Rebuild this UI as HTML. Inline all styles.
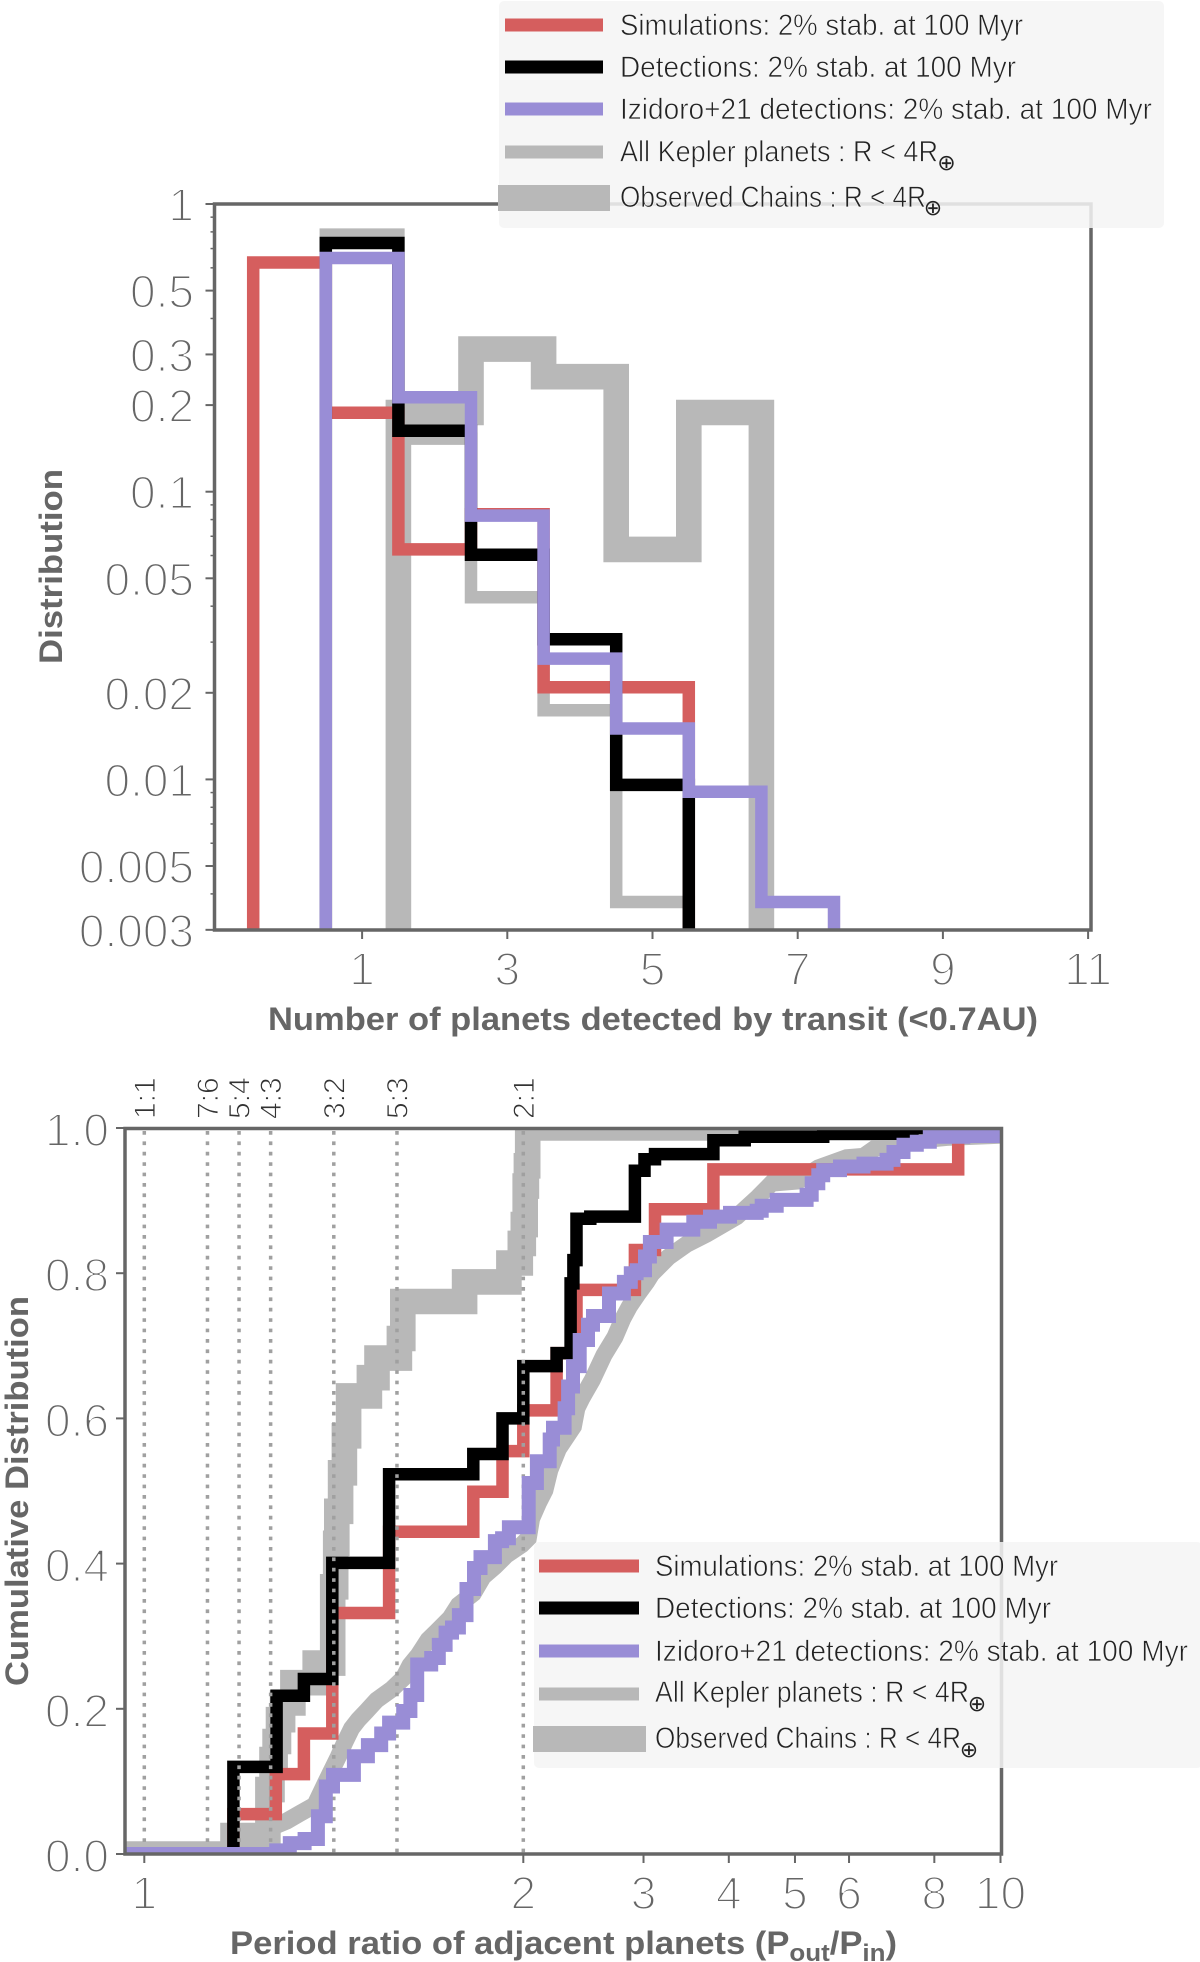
<!DOCTYPE html>
<html lang="en">
<head>
<meta charset="utf-8">
<title>Planet multiplicity and period ratio distributions</title>
<style>
  html, body { margin: 0; padding: 0; background: #fff; }
  svg { display: block; }
  text { font-family: "Liberation Sans", sans-serif; }
  .tick-label { fill: #666; stroke: #fff; stroke-width: 1.9px; font-size: 46px; }
  .axis-title { fill: #666; font-size: 32px; font-weight: bold; }
  .legend-text { fill: #222; stroke: #f5f5f5; stroke-width: .7px; font-size: 30px; }
  .earth { fill: #222; font-size: 22px; font-family: "DejaVu Sans", sans-serif; }
  .ratio-label { fill: #333; stroke: #fff; stroke-width: .9px; font-size: 30px; }
</style>
</head>
<body>
<svg id="fig" xmlns="http://www.w3.org/2000/svg" width="1200" height="1962" viewBox="0 0 1200 1962">
  <defs>
    <clipPath id="clip-top"><rect x="214.500" y="204" width="876.500" height="726"/></clipPath>
    <clipPath id="clip-bot"><rect x="125" y="1128" width="876.500" height="726"/></clipPath>
  </defs>
  <g id="top-marks" clip-path="url(#clip-top)"></g>
  <g id="top-axes"></g>
  <g id="bot-marks" clip-path="url(#clip-bot)"></g>
  <g id="bot-axes"></g>

  <text class="axis-title" x="268" y="1030" textLength="770" lengthAdjust="spacingAndGlyphs">Number of planets detected by transit (&lt;0.7AU)</text>
  <text class="axis-title" transform="translate(62,664) rotate(-90)" textLength="195" lengthAdjust="spacingAndGlyphs">Distribution</text>
  <text class="axis-title" transform="translate(28,1686) rotate(-90)" textLength="390" lengthAdjust="spacingAndGlyphs">Cumulative Distribution</text>
  <text class="axis-title" x="230" y="1954" textLength="667" lengthAdjust="spacingAndGlyphs">Period ratio of adjacent planets (P<tspan dy="7" font-size="24">out</tspan><tspan dy="-7">/P</tspan><tspan dy="7" font-size="24">in</tspan><tspan dy="-7">)</tspan></text>

  <g>
    <rect x="499" y="1" width="665" height="227" rx="5" fill="#f5f5f5" fill-opacity=".86"/>
    <rect x="505" y="18.500" width="98" height="13" fill="#d55e5e"/>
    <text class="legend-text" x="620" y="35" textLength="403" lengthAdjust="spacingAndGlyphs">Simulations: 2% stab. at 100 Myr</text>
    <rect x="505" y="60.500" width="98" height="13" fill="#000"/>
    <text class="legend-text" x="620" y="77" textLength="396" lengthAdjust="spacingAndGlyphs">Detections: 2% stab. at 100 Myr</text>
    <rect x="505" y="102.500" width="98" height="13" fill="#998dd6"/>
    <text class="legend-text" x="620" y="119" textLength="532" lengthAdjust="spacingAndGlyphs">Izidoro+21 detections: 2% stab. at 100 Myr</text>
    <rect x="505" y="145.500" width="98" height="13" fill="#b8b8b8"/>
    <text class="legend-text" x="620" y="161.500" textLength="318" lengthAdjust="spacingAndGlyphs">All Kepler planets  : R &lt; 4R</text>
    <text class="earth" x="946.500" y="170" text-anchor="middle">⊕</text>
    <rect x="498" y="185" width="112" height="26" fill="#b8b8b8"/>
    <text class="legend-text" x="620" y="207" textLength="306" lengthAdjust="spacingAndGlyphs">Observed Chains : R &lt; 4R</text>
    <text class="earth" x="933" y="215" text-anchor="middle">⊕</text>
  </g>

  <g>
    <rect x="534" y="1542" width="668" height="226" rx="5" fill="#f5f5f5" fill-opacity=".86"/>
    <rect x="539" y="1559.500" width="100" height="13" fill="#d55e5e"/>
    <text class="legend-text" x="655" y="1576" textLength="403" lengthAdjust="spacingAndGlyphs">Simulations: 2% stab. at 100 Myr</text>
    <rect x="539" y="1601.500" width="100" height="13" fill="#000"/>
    <text class="legend-text" x="655" y="1618" textLength="396" lengthAdjust="spacingAndGlyphs">Detections: 2% stab. at 100 Myr</text>
    <rect x="539" y="1644.500" width="100" height="13" fill="#998dd6"/>
    <text class="legend-text" x="655" y="1661" textLength="533" lengthAdjust="spacingAndGlyphs">Izidoro+21 detections: 2% stab. at 100 Myr</text>
    <rect x="539" y="1687.500" width="100" height="13" fill="#b8b8b8"/>
    <text class="legend-text" x="655" y="1702" textLength="314" lengthAdjust="spacingAndGlyphs">All Kepler planets : R &lt; 4R</text>
    <text class="earth" x="977" y="1711" text-anchor="middle">⊕</text>
    <rect x="533" y="1726" width="113" height="26" fill="#b8b8b8"/>
    <text class="legend-text" x="655" y="1748" textLength="306" lengthAdjust="spacingAndGlyphs">Observed Chains : R &lt; 4R</text>
    <text class="earth" x="969" y="1757" text-anchor="middle">⊕</text>
  </g>
</svg>

<script>
/* ---------- top chart data ---------- */
var histRedBins = [0, 1, 2, 3, 4, 5];
var histRedValues = [0.626, 0.188, 0.063, 0.0835, 0.0209, 0.0209];
var histBlackBins = [1, 2, 3, 4, 5];
var histBlackValues = [0.732, 0.163, 0.0604, 0.0307, 0.00957];
var histPurpleBins = [1, 2, 3, 4, 5, 6, 7];
var histPurpleValues = [0.649, 0.213, 0.0826, 0.0263, 0.01503, 0.00906, 0.00375];
var histKeplerBins = [1, 2, 3, 4, 5];
var histKeplerValues = [0.783, 0.153, 0.043, 0.0174, 0.00375];
var histChainBins = [2, 3, 4, 5, 6];
var histChainValues = [0.1885, 0.313, 0.251, 0.063, 0.1885];
var topXTicks = [1, 3, 5, 7, 9, 11];
var topYMajorTicks = [1, 0.5, 0.3, 0.2, 0.1, 0.05, 0.02, 0.01, 0.005, 0.003];
var topYMajorLabels = ["1", "0.5", "0.3", "0.2", "0.1", "0.05", "0.02", "0.01", "0.005", "0.003"];
var topYMinorTicks = [0.9, 0.8, 0.7, 0.6, 0.4, 0.09, 0.08, 0.07, 0.06, 0.04, 0.03, 0.009, 0.008, 0.007, 0.006, 0.004];

/* ---------- bottom chart data ---------- */
var cdfChainP = [1.234,1.326,1.337,1.345,1.354,1.365,1.392,1.451,1.497,1.505,1.508,1.518,1.528,1.539,1.594,1.614,1.673,1.682,1.845,1.962,1.992,2.0,2.013,2.021,2.03];
var cdfChainV = [.0255,.0887,.130,.155,.185,.208,.236,.263,.368,.428,.472,.525,.576,.631,.656,.683,.710,.761,.788,.814,.841,.867,.920,.948,1.0];
var cdfKeplerP = [1.22,1.30,1.340,1.376,1.411,1.450,1.477,1.512,1.530,1.547,1.565,1.585,1.613,1.653,1.683,1.701,1.723,1.749,1.771,1.807,1.829,1.868,1.894,1.925,1.956,1.996,2.034,2.057,2.104,2.151,2.188,2.251,2.368,2.396,2.437,2.524,2.625,2.724,2.797,2.860,2.947,3.032,3.084,3.262,3.470,3.713,4.108,4.417,4.622,5.056,5.41,5.95,6.30,6.55,6.97,7.54,8.34,9.98];
var cdfKeplerV = [0,.022,.0376,.0455,.056,.0675,.097,.134,.155,.173,.185,.196,.212,.227,.242,.260,.274,.295,.306,.325,.343,.359,.382,.396,.412,.426,.435,.462,.483,.501,.529,.558,.589,.614,.628,.653,.687,.712,.737,.754,.772,.788,.799,.822,.840,.854,.878,.905,.924,.927,.945,.959,.961,.972,.978,.983,.987,.990];
var cdfRedP = [1.235,1.347,1.421,1.496,1.646,1.868,1.945,2.0,2.238,2.393,2.914,3.118,3.797,8.67];
var cdfRedV = [.055,.11,.166,.332,.444,.499,.555,.611,.69,.777,.832,.888,.943,1.0];
var cdfBlackP = [1.235,1.349,1.421,1.496,1.646,1.868,1.945,2.0,2.238,2.346,2.368,2.393,2.507,2.914,3.01,3.118,3.797,4.22,5.50,7.43];
var cdfBlackV = [.12,.218,.241,.401,.523,.551,.6,.672,.690,.786,.818,.875,.878,.941,.957,.964,.983,.988,.992,1.0];
var cdfPurpleP = [1.348,1.384,1.423,1.458,1.479,1.498,1.553,1.590,1.625,1.646,1.683,1.702,1.720,1.757,1.777,1.795,1.812,1.830,1.850,1.870,1.887,1.925,1.944,1.962,2.037,2.094,2.186,2.211,2.299,2.326,2.365,2.419,2.488,2.530,2.670,2.808,2.874,2.931,3.015,3.065,3.243,3.548,3.754,4.016,4.395,4.469,4.701,5.20,5.29,5.41,5.50,5.82,6.30,6.81,6.97,7.21,7.54,7.88,8.82,9.98];
var cdfPurpleV = [.005,.015,.0207,.052,.093,.109,.1346,.150,.166,.181,.197,.219,.261,.270,.288,.305,.312,.329,.365,.394,.409,.431,.435,.450,.511,.541,.571,.587,.614,.644,.672,.708,.729,.741,.772,.788,.800,.804,.823,.843,.860,.871,.878,.883,.886,.893,.901,.908,.924,.935,.942,.947,.951,.956,.967,.977,.981,.988,.989,.992];
var resonanceValues = [1, 7/6, 5/4, 4/3, 3/2, 5/3, 2];
var resonanceLabels = ["1:1", "7:6", "5:4", "4:3", "3:2", "5:3", "2:1"];
var botXTicks = [1, 2, 3, 4, 5, 6, 8, 10];
var botYTicks = [0, 0.2, 0.4, 0.6, 0.8, 1.0];
var botYLabels = ["0.0", "0.2", "0.4", "0.6", "0.8", "1.0"];

/* ---------- scales ---------- */
function xTop(n) { return 362.1 + (n - 1) * 72.6; }
function yTop(v) { return 204 - Math.log10(v) * 287.7; }
function xBot(p) { return p <= 2 ? 144.3 + (p - 1) * 379 : 523.3 + Math.log10(p / 2) * 682.7; }
function yBot(v) { return 1854 - v * 726; }

var NS = "http://www.w3.org/2000/svg";
function mk(parent, tag, props) {
  var el = document.createElementNS(NS, tag);
  for (var k in props) el.setAttribute(k, props[k]);
  parent.appendChild(el);
  return el;
}
function narrow(t, f) {
  t.setAttribute("textLength", (t.getComputedTextLength() * f).toFixed(1));
  t.setAttribute("lengthAdjust", "spacingAndGlyphs");
}

/* ---------- top chart ---------- */
var topMarks = document.getElementById("top-marks");
var topAxes = document.getElementById("top-axes");

function histPath(bins, values) {
  var base = 960;
  var d = "M" + xTop(bins[0] - 0.5).toFixed(1) + " " + base;
  for (var i = 0; i < bins.length; i++) {
    d += "V" + yTop(values[i]).toFixed(1) + "H" + xTop(bins[i] + 0.5).toFixed(1);
  }
  return d + "V" + base;
}
function drawHist(name, bins, values, color, width) {
  var p = mk(topMarks, "path", { d: histPath(bins, values), fill: "none", stroke: color, "stroke-width": width, "stroke-linejoin": "miter" });
  
  
}
drawHist("hist-observed-chains", histChainBins, histChainValues, "#b8b8b8", 25.6);
drawHist("hist-all-kepler", histKeplerBins, histKeplerValues, "#b8b8b8", 12.5);
drawHist("hist-simulations", histRedBins, histRedValues, "#d55e5e", 12.5);
drawHist("hist-detections", histBlackBins, histBlackValues, "#000", 12.5);
drawHist("hist-izidoro", histPurpleBins, histPurpleValues, "#998dd6", 12.5);

topXTicks.forEach(function (n) {
  var l = mk(topAxes, "line", { x1: xTop(n), x2: xTop(n), y1: 930, y2: 939, stroke: "#666", "stroke-width": 2 });
  
  
  var t = mk(topAxes, "text", { class: "tick-label", x: xTop(n), y: 985, "text-anchor": "middle" });
  t.textContent = String(n);
  
  
});
topYMinorTicks.forEach(function (v) {
  var l = mk(topAxes, "line", { x1: 210.5, x2: 214.5, y1: yTop(v), y2: yTop(v), stroke: "#666", "stroke-width": 1.5 });
  
  
});
topYMajorTicks.forEach(function (v, i) {
  var l = mk(topAxes, "line", { x1: 205.5, x2: 214.5, y1: yTop(v), y2: yTop(v), stroke: "#666", "stroke-width": 2 });
  
  
  var t = mk(topAxes, "text", { class: "tick-label", x: 194, y: yTop(v) + 17, "text-anchor": "end" });
  t.textContent = topYMajorLabels[i];
  
  
  narrow(t, 1.0);
});
var topFrame = mk(topAxes, "rect", { x: 214.5, y: 204, width: 876.5, height: 726, fill: "none", stroke: "#666", "stroke-width": 3.5 });



/* ---------- bottom chart ---------- */
var botMarks = document.getElementById("bot-marks");
var botAxes = document.getElementById("bot-axes");

function cdfPath(ps, vs) {
  var d = "M100 " + yBot(0).toFixed(1);
  for (var i = 0; i < ps.length; i++) {
    d += "H" + xBot(ps[i]).toFixed(1) + "V" + yBot(vs[i]).toFixed(1);
  }
  return d + "H1040";
}
function cdfLinePath(ps, vs) {
  var d = "M100 " + yBot(0).toFixed(1);
  for (var i = 0; i < ps.length; i++) {
    d += "L" + xBot(ps[i]).toFixed(1) + " " + yBot(vs[i]).toFixed(1);
  }
  return d + "L1040 " + yBot(vs[vs.length - 1]).toFixed(1);
}
function drawCdf(name, d, color, width) {
  var p = mk(botMarks, "path", { d: d, fill: "none", stroke: color, "stroke-width": width, "stroke-linejoin": "miter" });
  
  
}
drawCdf("cdf-observed-chains", cdfPath(cdfChainP, cdfChainV), "#b8b8b8", 25.6);
drawCdf("cdf-all-kepler", cdfLinePath(cdfKeplerP, cdfKeplerV), "#b8b8b8", 17);
drawCdf("cdf-simulations", cdfPath(cdfRedP, cdfRedV), "#d55e5e", 12.5);
drawCdf("cdf-detections", cdfPath(cdfBlackP, cdfBlackV), "#000", 12.5);

resonanceValues.forEach(function (r, i) {
  var x = xBot(r);
  var l = mk(botMarks, "line", { x1: x, x2: x, y1: 1131, y2: 1854, stroke: "#a0a0a0", "stroke-width": 3.5, "stroke-dasharray": "3.7 6.7" });
  
  
  var t = mk(botAxes, "text", { class: "ratio-label", transform: "translate(" + (x + 10.5) + ",1119) rotate(-90)" });
  t.textContent = resonanceLabels[i];
  
  
});

drawCdf("cdf-izidoro", cdfPath(cdfPurpleP, cdfPurpleV), "#998dd6", 14);

botXTicks.forEach(function (p) {
  var l = mk(botAxes, "line", { x1: xBot(p), x2: xBot(p), y1: 1854, y2: 1863, stroke: "#666", "stroke-width": 2 });
  
  
  var t = mk(botAxes, "text", { class: "tick-label", x: xBot(p), y: 1909, "text-anchor": "middle" });
  t.textContent = String(p);
  
  
});
botYTicks.forEach(function (v, i) {
  var l = mk(botAxes, "line", { x1: 116, x2: 125, y1: yBot(v), y2: yBot(v), stroke: "#666", "stroke-width": 2 });
  
  
  var t = mk(botAxes, "text", { class: "tick-label", x: 109, y: yBot(v) + 18, "text-anchor": "end" });
  t.textContent = botYLabels[i];
  
  
  narrow(t, 1.0);
});
var botFrame = mk(botAxes, "rect", { x: 125, y: 1128.5, width: 876.5, height: 725.5, fill: "none", stroke: "#666", "stroke-width": 3.5 });


</script>
</body>
</html>
